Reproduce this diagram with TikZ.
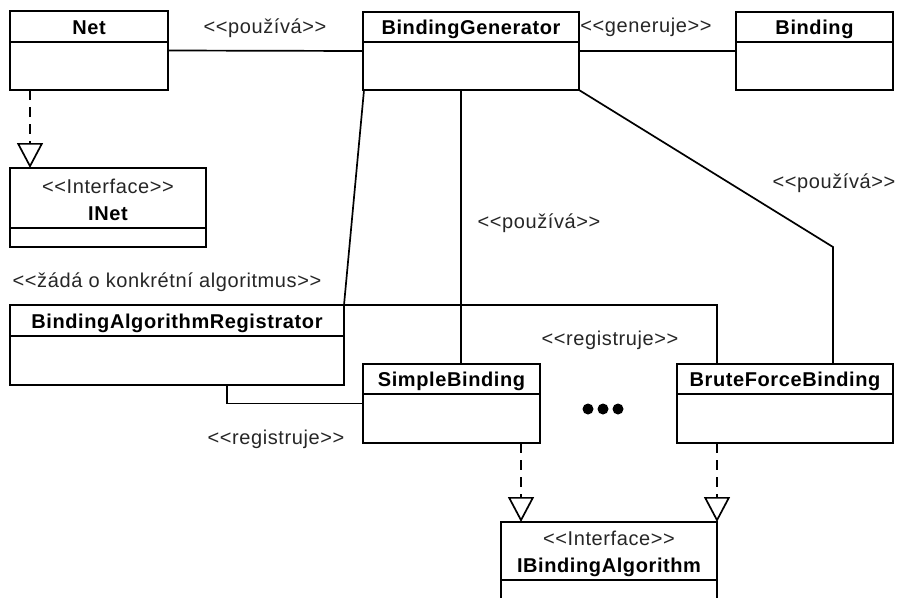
\documentclass[tikz,border=0pt]{standalone}
\usepackage{fontspec}
\setmainfont{Liberation Sans}[Ligatures=TeXOff, LetterSpace=3]
\usetikzlibrary{arrows.meta}

% class box: name, left, top, right, bottom, divider y, title
\newcommand\umlclass[7]{%
  \node[cls, minimum width={(#4)-(#2)}, minimum height={(#5)-(#3)}]
    (#1) at ({((#2)+(#4))/2},{((#3)+(#5))/2}) {};
  \draw[assoc] (#2,#6) -- (#4,#6);
  \node[title, anchor=base] (#1-name) at ({((#2)+(#4))/2},{(#6)-8}) {#7};
}
% interface box: as above, with a stereotype line
\newcommand\umliface[7]{%
  \umlclass{#1}{#2}{#3}{#4}{#5}{#6}{#7}
  \node[lbl, anchor=base] (#1-st) at ({((#2)+(#4))/2},{(#6)-35}) {<<Interface>>};
}

\begin{document}
\begin{tikzpicture}[x=1pt, y=-1pt,
  cls/.style={draw, rectangle, inner sep=0pt, outer sep=0pt, line width=1.7pt},
  title/.style={font=\fontsize{20}{23}\selectfont\bfseries, inner sep=0pt},
  lbl/.style={font=\fontsize{20}{23}\selectfont, inner sep=0pt, text=black!85},
  assoc/.style={line width=1.7pt},
  realize/.style={line width=1.7pt, dash pattern=on 10pt off 7pt,
    -{Triangle[open, length=25pt, width=26pt]}},
  dotmark/.style={fill=black}]

\fill[white] (0,0) rectangle (899,597);
\clip (0,0) rectangle (899,597);

% classes
\umlclass{Net}{10}{11}{168}{90}{42}{Net}
\umliface{INet}{10}{168}{206}{247}{228}{INet}
\umlclass{BG}{363}{12}{579}{90}{42}{BindingGenerator}
\umlclass{Binding}{736}{12}{893}{90}{42}{Binding}
\umlclass{BAR}{10}{305}{344}{385}{336}{BindingAlgorithmRegistrator}
\umlclass{SB}{363}{364}{540}{443}{394}{SimpleBinding}
\umlclass{BFB}{677}{364}{893}{443}{394}{BruteForceBinding}
\umliface{IBA}{501}{522}{717}{640}{580}{IBindingAlgorithm}

% associations
\draw[assoc] (Net.east) -- (BG.west);
\draw[assoc] (BG.east) -- (Binding.west);
\draw[assoc] ([xshift=1pt]BG.south west) -- (BAR.north east);
\draw[assoc] ([xshift=98pt]BG.south west) -- ([xshift=98pt]SB.north west);
\coordinate (bendR) at (833,247);
\draw[assoc] (BG.south east) -- (bendR) -- ([xshift=156pt]BFB.north west);
\draw[assoc] (BAR.north east) -| ([xshift=40pt]BFB.north west);
\draw[assoc] ([xshift=217pt]BAR.south west) |- (SB.west);

% realizations
\draw[realize] ([xshift=20pt]Net.south west) -- ([xshift=20pt]INet.north west);
\draw[realize] ([xshift=158pt]SB.south west) -- ([xshift=20pt]IBA.north west);
\draw[realize] ([xshift=40pt]BFB.south west) -- (IBA.north east);

% association labels
\node[lbl, anchor=base] (l1) at (265,33) {<<používá>>};
\node[lbl, anchor=base] (l2) at (646,32) {<<generuje>>};
\node[lbl, anchor=base] (l3) at (834,188) {<<používá>>};
\node[lbl, anchor=base] (l4) at (539,228) {<<používá>>};
\node[lbl, anchor=base] (l5) at (167,287) {<<žádá o konkrétní algoritmus>>};
\node[lbl, anchor=base] (l6) at (610,345) {<<registruje>>};
\node[lbl, anchor=base] (l7) at (276,444) {<<registruje>>};

% ellipsis
\fill[dotmark] (588,409) circle (5.5);
\fill[dotmark] (603,409) circle (5.5);
\fill[dotmark] (618,409) circle (5.5);
\end{tikzpicture}
\end{document}
